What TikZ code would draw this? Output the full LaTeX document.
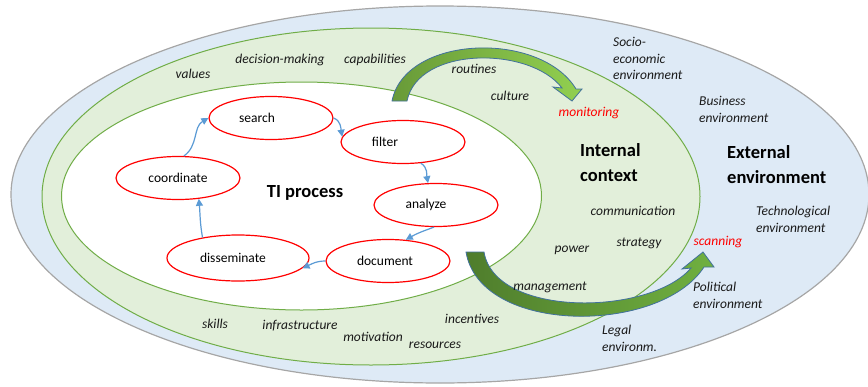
\documentclass[tikz,border=0pt]{standalone}
\usepackage{fontspec}
\setmainfont{Carlito}
\usetikzlibrary{arrows.meta,shapes.geometric}
\definecolor{envblue}{HTML}{DEEAF6}
\definecolor{envline}{HTML}{A6A6A6}
\definecolor{ctxgreen}{HTML}{E2EFDA}
\definecolor{ctxline}{HTML}{70AD47}
\definecolor{procred}{HTML}{FF0000}
\definecolor{arrblue}{HTML}{5B9BD5}
\definecolor{arroutline}{HTML}{41719C}
\definecolor{topdark}{HTML}{689A38}
\definecolor{toplight}{HTML}{92D050}
\definecolor{botdark}{HTML}{4F7D2C}
\definecolor{botlight}{HTML}{70B040}
\tikzset{
  lab/.style={font=\itshape\fontsize{13.5}{16.5}\selectfont, inner sep=0pt, text=black!90},
  redlab/.style={lab, text=procred},
  bigbold/.style={font=\bfseries\fontsize{18.5}{25}\selectfont, inner sep=0pt, align=left},
  proc/.style={ellipse, draw=procred, line width=1.2pt, fill=white, minimum width=124pt, minimum height=43pt, inner sep=0pt},
  ptext/.style={font=\fontsize{13.5}{16}\selectfont, inner sep=0pt},
  conn/.style={draw=arrblue, line width=1.2pt, -{Triangle[length=7pt,width=7pt]}},
  bigarrow/.style={draw=arroutline, line width=0.8pt}
}
\begin{document}
\begin{tikzpicture}[x=1pt,y=-1pt]
\useasboundingbox (0,0) rectangle (868,386);
% environment rings
\filldraw[fill=envblue, draw=envline, line width=1.2pt] (440,194.5) ellipse [x radius=429pt, y radius=188.5pt];
\filldraw[fill=ctxgreen, draw=ctxline, line width=1pt] (371,196.5) ellipse [x radius=329pt, y radius=168.5pt];
\filldraw[fill=white, draw=ctxline, line width=1pt] (301.5,196) ellipse [x radius=240pt, y radius=114pt];

% monitoring arrow (top)
\shade[left color=topdark, right color=toplight]
  (392,101) .. controls (405,35) and (540,30) .. (576,89)
  -- (582,89) -- (572,101) -- (553,87) -- (562,88)
  .. controls (530,46) and (418,46) .. (407,101) -- cycle;
\draw[bigarrow]
  (392,101) .. controls (405,35) and (540,30) .. (576,89)
  -- (582,89) -- (572,101) -- (553,87) -- (562,88)
  .. controls (530,46) and (418,46) .. (407,101) -- cycle;

% scanning arrow (bottom)
\shade[left color=botdark, right color=botlight]
  (466,252) .. controls (480,335) and (660,335) .. (704,267)
  -- (714,267) -- (703,252) -- (682,269) -- (691,268)
  .. controls (650,316) and (495,318) .. (484,252) -- cycle;
\draw[bigarrow]
  (466,252) .. controls (480,335) and (660,335) .. (704,267)
  -- (714,267) -- (703,252) -- (682,269) -- (691,268)
  .. controls (650,316) and (495,318) .. (484,252) -- cycle;

% internal context labels
\node[lab] (values) at (193,74) {values};
\node[lab] (decision) at (280,60) {decision-making};
\node[lab] (capab) at (375,60) {capabilities};
\node[lab] (routines) at (474,69) {routines};
\node[lab] (culture) at (510,96) {culture};
\node[redlab] (monitoring) at (589,113) {monitoring};
\node[lab] (communication) at (633,211) {communication};
\node[lab] (strategy) at (639,243) {strategy};
\node[lab] (power) at (572,250) {power};
\node[lab] (management) at (550,287) {management};
\node[lab] (incentives) at (472,319) {incentives};
\node[lab] (resources) at (435,345) {resources};
\node[lab] (skills) at (215,324) {skills};
\node[lab] (infra) at (300,326) {infrastructure};
\node[lab] (motivation) at (373,337) {motivation};
\node[bigbold, anchor=west] (internal) at (580,162.5) {Internal\\context};

% external environment labels
\node[lab, align=left, anchor=west] (socio) at (613,58.5) {Socio-\\economic\\environment};
\node[lab, align=left, anchor=west] (business) at (699,109.5) {Business\\environment};
\node[bigbold, anchor=west] (external) at (727,164.5) {External\\environment};
\node[lab, align=left, anchor=west] (techno) at (756,219.5) {Technological\\environment};
\node[redlab] (scanning) at (718,242) {scanning};
\node[lab, align=left, anchor=west] (political) at (693,295.5) {Political\\environment};
\node[lab, align=left, anchor=west] (legal) at (602,338.5) {Legal\\environm.};

% TI process
\node[font=\bfseries\fontsize{18.5}{22}\selectfont, inner sep=0pt] (ti) at (305,193) {TI process};
\node[proc, label={[ptext, xshift=-14pt]center:search}] (search) at (271,118) {};
\node[proc, label={[ptext, xshift=-18pt]center:filter}] (filter) at (403,142) {};
\node[proc, label={[ptext, xshift=-10pt]center:analyze}] (analyze) at (436,205) {};
\node[proc, label={[ptext, xshift=-3pt]center:document}] (document) at (388,261) {};
\node[proc, minimum width=142pt, minimum height=46pt, label={[ptext, xshift=-5pt]center:disseminate}] (disseminate) at (238,258) {};
\node[proc, label={[ptext]center:coordinate}] (coordinate) at (178,178) {};

\draw[conn] (coordinate.75) to[out=35,in=210] (search.west);
\draw[conn] (search.east) to[out=-20,in=100] (filter.175);
\draw[conn] (filter.-50) to[out=-30,in=100] (analyze.110);
\draw[conn] (analyze.-95) to[out=200,in=30] (document.50);
\draw[conn] (document.west) to[out=180,in=25] (disseminate.-9);
\draw[conn] (disseminate.150) to[out=100,in=-85] (coordinate.-45);
\end{tikzpicture}
\end{document}
